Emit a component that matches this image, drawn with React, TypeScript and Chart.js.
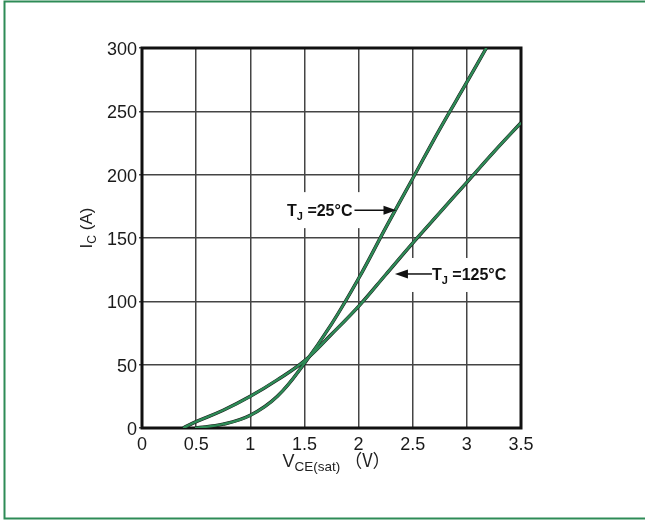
import React, { useEffect, useRef } from "react";
import { Chart, registerables } from "chart.js";

Chart.register(...registerables);

// ---- data ----
const xTickValues = [0, 0.5, 1, 1.5, 2, 2.5, 3, 3.5];
const xTickLabels = ["0", "0.5", "1", "1.5", "2", "2.5", "3", "3.5"];
const yTickValues = [0, 50, 100, 150, 200, 250, 300];
const yTickLabels = ["0", "50", "100", "150", "200", "250", "300"];

const vce25 = [0.49, 0.75, 1.0, 1.25, 1.5, 1.75, 2.0, 2.25, 2.5, 2.75, 3.0, 3.18];
const ic25 = [0, 3, 10, 25, 51, 82, 118, 158, 197, 236, 273, 300];

const vce125 = [0.38, 0.5, 0.75, 1.0, 1.25, 1.5, 1.75, 2.0, 2.25, 2.5, 2.75, 3.0, 3.25, 3.5];
const ic125 = [0, 5, 14, 25, 38, 53, 74, 96, 121, 146, 170, 194, 218, 241];

const label25 = ["T", "J", " =25°C"];
const label125 = ["T", "J", " =125°C"];
const arrowTip25 = [2.35, 172];
const arrowTip125 = [2.336, 121.6];

const yTitle = ["I", "C", " (A)"];
const xTitle = ["V", "CE(sat)", " （V）"];

const FONT = "'Liberation Sans', Arial, sans-serif";
const CJK = "'Noto Sans CJK SC', sans-serif";
const GREEN = "#2e8b57";

type Part = { text: string; sub: boolean; cjk?: boolean };
const toParts = (a: string[], cjkLast = false): Part[] => [
  { text: a[0], sub: false },
  { text: a[1], sub: true },
  { text: a[2], sub: false, cjk: cjkLast },
];

function fontFor(p: Part, size: number, subSize: number, weight: string) {
  return `${weight} ${p.sub ? subSize : size}px ${p.cjk ? CJK : FONT}`;
}

function measureParts(ctx: CanvasRenderingContext2D, parts: Part[], size: number, subSize: number, weight: string) {
  let w = 0;
  for (const p of parts) {
    ctx.font = fontFor(p, size, subSize, weight);
    w += ctx.measureText(p.text).width;
  }
  return w;
}

function drawParts(ctx: CanvasRenderingContext2D, parts: Part[], x: number, y: number, size: number, subSize: number, weight: string, subDrop: number) {
  let cx = x;
  ctx.textBaseline = "alphabetic";
  ctx.textAlign = "left";
  for (const p of parts) {
    ctx.font = fontFor(p, size, subSize, weight);
    ctx.fillText(p.text, cx, p.sub ? y + subDrop : y);
    cx += ctx.measureText(p.text).width;
  }
  return cx;
}

const plugin = {
  id: "decor",
  beforeDraw(chart: any) {
    const ctx = chart.ctx as CanvasRenderingContext2D;
    ctx.save();
    ctx.fillStyle = "#ffffff";
    ctx.fillRect(0, 0, chart.width, chart.height);
    ctx.strokeStyle = GREEN;
    ctx.lineWidth = 2;
    ctx.beginPath();
    ctx.moveTo(chart.width + 2, 1.5);
    ctx.lineTo(4.5, 1.5);
    ctx.lineTo(4.5, 518.5);
    ctx.lineTo(chart.width + 2, 518.5);
    ctx.stroke();
    ctx.restore();
  },
  beforeDatasetsDraw(chart: any) {
    const ctx = chart.ctx as CanvasRenderingContext2D;
    const xs = chart.scales.x;
    const ys = chart.scales.y;
    const a = chart.chartArea;
    ctx.save();
    ctx.fillStyle = "#ffffff";
    const t25x = xs.getPixelForValue(arrowTip25[0]);
    const t25y = ys.getPixelForValue(arrowTip25[1]);
    const p25 = toParts(label25);
    const w25 = measureParts(ctx, p25, 16, 11, "bold");
    const left25 = t25x - 44 - w25;
    ctx.fillRect(left25 - 6, t25y - 18, w25 + 14, 36);
    const t125x = xs.getPixelForValue(arrowTip125[0]);
    const t125y = ys.getPixelForValue(arrowTip125[1]);
    const p125 = toParts(label125);
    const w125 = measureParts(ctx, p125, 16, 11, "bold");
    const left125 = t125x + 37;
    ctx.fillRect(left125 - 25, t125y - 16, w125 + 30, 34);
    ctx.strokeStyle = "#111";
    ctx.lineWidth = 3;
    ctx.strokeRect(a.left, a.top, a.right - a.left, a.bottom - a.top);
    ctx.restore();
  },
  afterDatasetsDraw(chart: any) {
    const ctx = chart.ctx as CanvasRenderingContext2D;
    const xs = chart.scales.x;
    const ys = chart.scales.y;
    const a = chart.chartArea;
    ctx.save();
    ctx.fillStyle = "#111";
    ctx.strokeStyle = "#111";
    ctx.lineWidth = 1.5;

    const t25x = xs.getPixelForValue(arrowTip25[0]);
    const t25y = ys.getPixelForValue(arrowTip25[1]);
    const p25 = toParts(label25);
    const w25 = measureParts(ctx, p25, 16, 11, "bold");
    const left25 = t25x - 44 - w25;
    drawParts(ctx, p25, left25, t25y + 6, 16, 11, "bold", 4);
    ctx.beginPath();
    ctx.moveTo(left25 + w25 + 2, t25y);
    ctx.lineTo(t25x - 10, t25y);
    ctx.stroke();
    ctx.beginPath();
    ctx.moveTo(t25x, t25y);
    ctx.lineTo(t25x - 13, t25y - 4.5);
    ctx.lineTo(t25x - 13, t25y + 4.5);
    ctx.closePath();
    ctx.fill();

    const t125x = xs.getPixelForValue(arrowTip125[0]);
    const t125y = ys.getPixelForValue(arrowTip125[1]);
    const p125 = toParts(label125);
    const left125 = t125x + 37;
    drawParts(ctx, p125, left125, t125y + 6, 16, 11, "bold", 4);
    ctx.beginPath();
    ctx.moveTo(t125x + 10, t125y);
    ctx.lineTo(left125, t125y);
    ctx.stroke();
    ctx.beginPath();
    ctx.moveTo(t125x, t125y);
    ctx.lineTo(t125x + 13, t125y - 4.5);
    ctx.lineTo(t125x + 13, t125y + 4.5);
    ctx.closePath();
    ctx.fill();

    ctx.fillStyle = "#222";
    const xp = toParts(xTitle, true);
    const xw = measureParts(ctx, xp, 18, 13.5, "normal");
    drawParts(ctx, xp, (a.left + a.right) / 2 + 5 - xw / 2, a.bottom + 39, 18, 13.5, "normal", 4);

    const yp = toParts(yTitle);
    const yw = measureParts(ctx, yp, 17, 12, "normal");
    ctx.translate(a.left - 50, (a.top + a.bottom) / 2 - 10);
    ctx.rotate(-Math.PI / 2);
    drawParts(ctx, yp, -yw / 2, 0, 17, 12, "normal", 4);
    ctx.restore();
  },
};

function pts(xs: number[], ys: number[]) {
  return xs.map((x, i) => ({ x, y: ys[i] }));
}

export default function App() {
  const ref = useRef<HTMLCanvasElement | null>(null);
  useEffect(() => {
    if (!ref.current) return;
    const d25 = pts(vce25, ic25);
    const d125 = pts(vce125, ic125);
    const base = { pointRadius: 0, tension: 0.4, fill: false, showLine: true };
    const chart = new Chart(ref.current, {
      type: "scatter",
      data: {
        datasets: [
          { ...base, label: "Tj=25°C", data: d25, borderColor: GREEN, borderWidth: 2.4, order: 0 },
          { ...base, label: "Tj=125°C", data: d125, borderColor: GREEN, borderWidth: 2.4, order: 0 },
          { ...base, label: "Tj=25°C edge", data: d25, borderColor: "#1a1a1a", borderWidth: 3.4, order: 1 },
          { ...base, label: "Tj=125°C edge", data: d125, borderColor: "#1a1a1a", borderWidth: 3.4, order: 1 },
        ],
      },
      options: {
        animation: false,
        responsive: false,
        devicePixelRatio: 1,
        layout: { padding: { left: 0, right: 124, top: 48, bottom: 0 } },
        plugins: { legend: { display: false }, tooltip: { enabled: false } },
        scales: {
          x: {
            type: "linear",
            min: 0,
            max: 3.5,
            afterBuildTicks: (s: any) => {
              s.ticks = xTickValues.map((v) => ({ value: v }));
            },
            afterFit: (s: any) => {
              s.height = 92;
            },
            ticks: {
              callback: (_v: any, i: number) => xTickLabels[i],
              color: "#1a1a1a",
              font: { family: FONT, size: 18 },
              padding: 6,
              maxRotation: 0,
            },
            grid: { color: "#444", lineWidth: 1.5, drawTicks: false },
            border: { display: false },
          },
          y: {
            type: "linear",
            min: 0,
            max: 300,
            afterBuildTicks: (s: any) => {
              s.ticks = yTickValues.map((v) => ({ value: v }));
            },
            afterFit: (s: any) => {
              s.width = 142;
            },
            ticks: {
              callback: (_v: any, i: number) => yTickLabels[i],
              color: "#1a1a1a",
              font: { family: FONT, size: 18 },
              padding: 2,
              labelOffset: 2,
            },
            grid: { color: "#444", lineWidth: 1.5, tickLength: 3 },
            border: { display: false },
          },
        },
      },
      plugins: [plugin],
    });
    return () => chart.destroy();
  }, []);
  return (
    <div style={{ position: "fixed", left: 0, top: 0, width: 645, height: 520 }}>
      <canvas ref={ref} width={645} height={520} style={{ display: "block" }} />
    </div>
  );
}
